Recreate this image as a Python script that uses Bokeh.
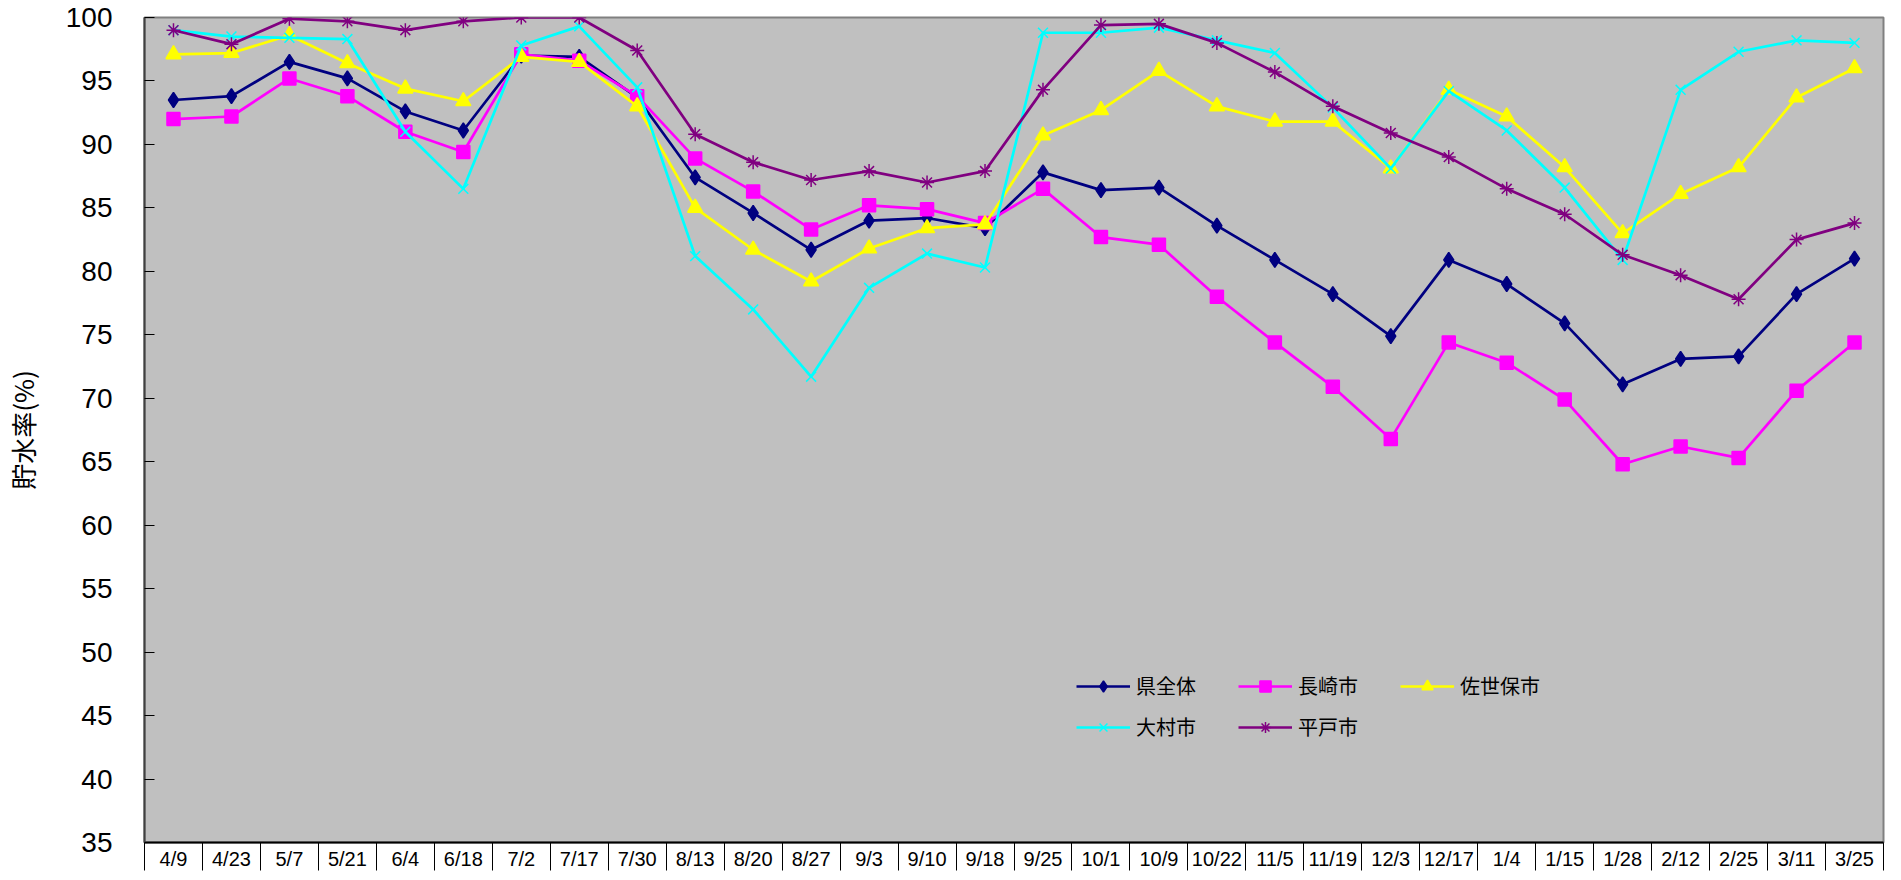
from bokeh.plotting import figure
from bokeh.models import Range1d, FixedTicker, Legend, LegendItem
from bokeh.embed import file_html
from bokeh.resources import INLINE

dates = ["4/9", "4/23", "5/7", "5/21", "6/4", "6/18", "7/2", "7/17", "7/30", "8/13",
         "8/20", "8/27", "9/3", "9/10", "9/18", "9/25", "10/1", "10/9", "10/22", "11/5",
         "11/19", "12/3", "12/17", "1/4", "1/15", "1/28", "2/12", "2/25", "3/11", "3/25"]

ken_zentai = [93.5, 93.8, 96.5, 95.2, 92.6, 91.1, 97.0, 96.9, 93.7, 87.4,
              84.6, 81.7, 84.0, 84.2, 83.4, 87.8, 86.4, 86.6, 83.6, 80.9,
              78.2, 74.9, 80.9, 79.0, 75.9, 71.1, 73.1, 73.3, 78.2, 81.0]
nagasaki = [92.0, 92.2, 95.2, 93.8, 91.0, 89.4, 97.1, 96.6, 93.8, 88.9,
            86.3, 83.3, 85.2, 84.9, 83.8, 86.5, 82.7, 82.1, 78.0, 74.4,
            70.9, 66.8, 74.4, 72.8, 69.9, 64.8, 66.2, 65.3, 70.6, 74.4]
sasebo = [97.1, 97.2, 98.6, 96.4, 94.4, 93.4, 96.9, 96.5, 93.0, 85.0,
          81.7, 79.2, 81.8, 83.4, 83.7, 90.7, 92.7, 95.8, 93.0, 91.8,
          91.8, 88.1, 94.3, 92.2, 88.2, 83.0, 86.1, 88.2, 93.7, 96.0]
omura = [99.0, 98.5, 98.4, 98.3, 91.0, 86.5, 97.8, 99.3, 94.5, 81.2,
         77.0, 71.7, 78.7, 81.4, 80.3, 98.8, 98.8, 99.2, 98.2, 97.2,
         92.9, 88.1, 94.2, 91.1, 86.6, 80.9, 94.3, 97.3, 98.2, 98.0]
hirado = [99.0, 97.9, 99.9, 99.7, 99.0, 99.7, 100.0, 100.0, 97.4, 90.8,
          88.6, 87.2, 87.9, 87.0, 87.9, 94.3, 99.4, 99.5, 98.0, 95.7,
          93.0, 90.9, 89.0, 86.5, 84.5, 81.3, 79.7, 77.8, 82.5, 83.8]

series_names = ["県全体", "長崎市", "佐世保市", "大村市", "平戸市"]
series_values = [ken_zentai, nagasaki, sasebo, omura, hirado]
series_colors = ["#000080", "#FF00FF", "#FFFF00", "#00FFFF", "#800080"]
series_markers = ["diamond", "square", "triangle", "x", "asterisk"]
series_sizes = [15, 13, 15, 14, 14]

y_ticks = list(range(35, 101, 5))

n = len(dates)
xs = [i + 0.5 for i in range(n)]

p = figure(width=1885, height=872, output_backend="svg", toolbar_location=None,
           x_range=Range1d(0, n), y_range=Range1d(35, 100),
           min_border_left=137, min_border_right=2, min_border_top=17, min_border_bottom=0)

p.background_fill_color = "#C0C0C0"
p.border_fill_color = "white"
p.outline_line_color = "#808080"
p.outline_line_width = 2
p.xgrid.visible = False
p.ygrid.visible = False

# x axis: labels centered in cells, separators as minor ticks
p.xaxis.ticker = FixedTicker(ticks=xs, minor_ticks=list(range(n + 1)))
p.xaxis.major_label_overrides = {x: d for x, d in zip(xs, dates)}
p.xaxis.major_tick_out = 0
p.xaxis.major_tick_in = 0
p.xaxis.minor_tick_out = 28
p.xaxis.minor_tick_in = 0
p.xaxis.minor_tick_line_color = "black"
p.xaxis.minor_tick_line_width = 1
p.xaxis.axis_line_color = "black"
p.xaxis.axis_line_width = 2
p.xaxis.major_label_text_font = "Liberation Sans"
p.xaxis.major_label_text_font_size = "20px"
p.xaxis.major_label_text_color = "black"
p.xaxis.major_label_standoff = -23

# y axis
p.yaxis.ticker = FixedTicker(ticks=y_ticks)
p.yaxis.major_tick_in = 10
p.yaxis.major_tick_out = 0
p.yaxis.minor_tick_line_color = None
p.yaxis.major_tick_line_color = "black"
p.yaxis.axis_line_color = "#404040"
p.yaxis.axis_line_width = 2
p.yaxis.major_label_text_font = "Liberation Sans"
p.yaxis.major_label_text_font_size = "28px"
p.yaxis.major_label_text_color = "black"
p.yaxis.major_label_standoff = 32
p.yaxis.axis_label = "貯水率(%)"
p.yaxis.axis_label_text_font = "Noto Sans CJK JP"
p.yaxis.axis_label_text_font_size = "26px"
p.yaxis.axis_label_text_font_style = "normal"
p.yaxis.axis_label_text_color = "black"
p.yaxis.axis_label_standoff = 22

items = []
for name, vals, col, mk, sz in zip(series_names, series_values, series_colors, series_markers, series_sizes):
    r1 = p.line(xs, vals, line_color=col, line_width=2.7)
    r2 = p.scatter(xs, vals, marker=mk, size=sz, fill_color=col, line_color=col, line_width=1.5)
    items.append(LegendItem(label=name, renderers=[r1, r2]))

legend = Legend(items=items, orientation="horizontal", ncols=3,
                location=(932, 101), padding=0, margin=0, spacing=12,
                glyph_width=54, glyph_height=28, label_height=28, label_width=90,
                label_standoff=6,
                label_text_font="Noto Sans CJK JP", label_text_font_size="20px",
                label_text_color="black",
                background_fill_alpha=0, border_line_alpha=0)
p.add_layout(legend, "center")

open("out.html", "w").write(file_html(p, INLINE))
